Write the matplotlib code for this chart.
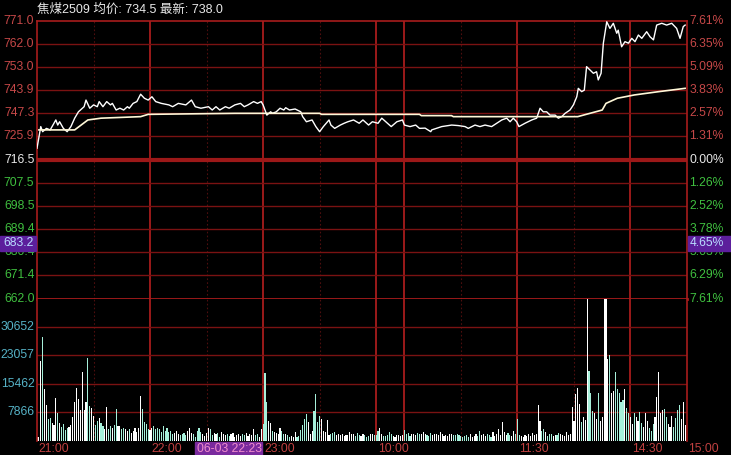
import numpy as np
import matplotlib
matplotlib.use("Agg")
import matplotlib.pyplot as plt
import matplotlib.transforms as mtransforms
from matplotlib.patches import Rectangle

plt.rcParams['font.family'] = ['Liberation Sans', 'Noto Sans CJK SC', 'DejaVu Sans']

TITLE = '焦煤2509 均价: 734.5 最新: 738.0'

# x axis = minutes of trading since 21:00
# night 21:00-23:00 (0-120), 9:00-10:15 (120-195), 10:30-11:30 (195-255), 13:30-15:00 (255-345)
price_t = [0, 2, 3, 5, 7, 10, 11, 12, 14, 16, 18, 20, 22, 25, 26, 28, 30, 32, 33, 35,
           37, 39, 40, 42, 44, 46, 48, 49, 51, 53, 55, 57, 59, 61, 63, 66, 70, 72, 75, 79,
           82, 84, 87, 91, 93, 95, 97, 100, 102, 105, 108, 110, 112, 115, 117, 119,
           120, 121, 122, 124, 125, 127, 129, 131, 132, 134, 137, 140, 141, 143, 146, 148,
           150, 152, 155, 156, 158, 161, 163, 165, 168, 171, 173, 176, 178, 181, 183, 186,
           188, 191, 194, 195, 198, 201, 203, 206, 209, 209.5, 214.8, 220.1, 223.6, 227.2,
           228.9, 232.5, 235.1, 237.8, 241.3, 244, 246.7, 249.3, 251.1, 252.8, 254.6,
           255.8, 259, 262.6, 265.2, 267, 268.7, 270.5, 272.3, 275, 276.7, 278.5, 280.3,
           282.9, 284.7, 286.5, 287.3, 289.1, 290.5, 291.7, 293.5, 295.3, 297, 297.9, 299.4,
           300.6, 302.4, 304.1, 305.9, 307.7, 308.5, 310.3, 312.1, 313.9, 315.7, 317.4,
           319.2, 321, 323.6, 325.4, 327.2, 328.9, 331.6, 334.2, 336.9, 339.5, 341.3, 343, 344]
price_v = [721.1, 729.6, 727.6, 728.9, 728.3, 732.2, 730.2, 731.5, 728.9, 727.6, 729.6, 732.9,
           735.4, 737.4, 740.0, 736.8, 738.1, 737.4, 739.4, 737.4, 739.4, 738.1, 738.7, 736.1,
           736.8, 736.1, 737.4, 736.8, 738.7, 739.4, 742.3, 740.7, 740.0, 741.3, 739.4, 738.7,
           738.1, 737.4, 738.7, 738.1, 740.0, 737.4, 736.8, 737.4, 736.1, 737.4, 736.1, 737.4,
           736.8, 738.1, 738.7, 737.4, 738.1, 739.4, 738.7, 739.4,
           738.1, 736.1, 734.1, 735.4, 734.8, 735.4, 736.8, 736.1, 737.0, 736.1, 736.5, 735.4,
           733.5, 731.5, 732.2, 729.6, 727.6, 729.6, 732.2, 730.2, 728.9, 730.2, 730.9, 731.5,
           732.2, 730.9, 732.2, 730.2, 731.5, 730.9, 732.9, 730.9, 729.6, 731.5, 732.2, 730.2,
           729.6, 730.2, 728.9, 729.0, 727.6, 728.3, 729.6, 730.2, 730.0, 729.6, 728.9, 730.2,
           729.6, 730.2, 729.6, 730.9, 732.2, 732.9, 731.5, 732.9, 731.5,
           729.6, 730.9, 732.2, 732.9, 736.8, 735.4, 735.4, 734.1, 734.1, 732.9, 733.5, 734.8,
           736.1, 738.1, 741.3, 744.6, 743.3, 743.9, 753.1, 751.8, 750.5, 751.1, 747.9, 750.5,
           762.3, 770.7, 768.1, 770.1, 766.2, 767.4, 760.9, 762.9, 762.3, 764.2, 762.9,
           765.5, 764.2, 766.8, 764.8, 763.6, 769.4, 770.1, 769.4, 770.1, 768.1, 764.2, 768.8, 769.4]

avg_t = [1, 20, 27, 34, 55, 59, 105, 150, 151, 203, 204, 220, 221, 287, 300, 302, 308, 317, 330, 344]
avg_v = [728.3, 728.3, 732.2, 732.9, 733.5, 734.4, 734.8, 734.8, 734.4, 734.4, 733.9, 733.9,
         733.5, 733.5, 736.1, 738.7, 740.7, 742.0, 743.3, 744.6]

volume = [
    1000, 1200, 21500, 28000, 14000, 9800, 6000, 6200, 4800, 4300,
    11500, 7500, 4800, 3900, 4500, 2900, 3500, 3800, 4300, 6400,
    10500, 14400, 11300, 8300, 18600, 8300, 10500, 22400, 9400, 9000,
    6800, 4200, 5500, 6100, 4800, 4000, 3300, 9200, 3300, 4000,
    3500, 4400, 8700, 4000, 4100, 3100, 3500, 3100, 2700, 3100,
    2200, 2700, 3500, 2500, 3500, 12000, 8700, 5000, 4700, 3100,
    2900, 3500, 4000, 3100, 3500, 3100, 2500, 4000, 2700, 3500,
    2300, 2700, 1800, 2200, 2700, 1800, 1500, 1800, 2200, 1600,
    2700, 3500, 2200, 1800, 1200, 2700, 3500, 2400, 1800, 1400,
    2200, 3500, 3300, 1600, 2200, 1800, 2200, 1200, 2500, 1800,
    1500, 2000, 1300, 1800, 2200, 1200, 1600, 2000, 1400, 1800,
    1600, 2200, 1300, 1800, 1500, 3200, 1500, 2000, 1200, 3100,
    4500, 18300, 10500, 5400, 4800, 2600, 2400, 2200, 1800, 3500,
    2800, 1800, 2000, 1500, 1200, 1400, 1000, 2400, 1200, 1300,
    2900, 4300, 6000, 7200, 5100, 1800, 2700, 8000, 12600, 5000,
    6800, 6000, 2700, 2300, 5600, 1700, 2000, 2200, 2300, 1500,
    1800, 1600, 2000, 1400, 1700, 1500, 2400, 1800, 2000, 1300,
    2200, 1500, 1300, 1800, 1600, 1200, 1400, 1800, 2000, 1500,
    1600, 2700, 3500, 1800, 1400, 1300, 1500, 2400, 1800, 1400,
    1200, 1500, 1700, 1300, 1600,
    2900, 1800, 2200, 1400, 2000, 1800, 1600, 2200, 1800, 2000,
    2500, 2000, 1700, 1400, 2200, 1600, 2000, 1800, 1500, 2400,
    1900, 1400, 1700, 1300, 2000, 1800, 1500, 1700, 2000, 1600,
    1300, 1100, 1400, 1600, 1000, 2000, 1200, 1300, 1800, 1400,
    2700, 1600, 2000, 1300, 1800, 1500, 1200, 2300, 1400, 2000,
    3200, 1700, 5200, 2500, 1500, 2200, 1700, 1300, 2600, 1800,
    5800, 1700, 1400, 1200, 1500, 1300, 1800, 1400, 2200, 1600,
    1800, 9600, 5400, 2600, 3200, 2400, 1300, 1800, 2000, 1400,
    1700, 1500, 2200, 1800, 1600, 1400, 2500, 1600, 1900, 9200,
    5500, 12600, 14400, 10100, 5000, 6500, 5600, 40000, 18800, 13000,
    8000, 7500, 6000, 13000, 5400, 6500, 40000, 40000, 22200, 23100,
    13000, 13500, 18600, 14000, 13000, 10500, 11000, 14100, 9000, 7500,
    6500, 4500, 7500, 6500, 5500, 7900, 4900, 3700, 7500, 5500,
    3600, 2800, 4500, 6500, 11900, 18600, 7500, 8400, 8600, 6500,
    4500, 3700, 6800, 3700, 6200, 8400, 9800, 6000, 10500, 4300,
]

price_levels = [771.0, 762.0, 753.0, 743.9, 734.9, 725.9, 716.5,
                707.5, 698.5, 689.4, 680.4, 671.4, 662.0]
price_labels = ['771.0', '762.0', '753.0', '743.9', '747.3', '725.9', '716.5',
                '707.5', '698.5', '689.4', '680.4', '671.4', '662.0']
pct_labels = ['7.61%', '6.35%', '5.09%', '3.83%', '2.57%', '1.31%', '0.00%',
              '1.26%', '2.52%', '3.78%', '5.03%', '6.29%', '7.61%']
vol_levels = [7866, 15462, 23057, 30652]
vol_top = 38247

time_ticks = [0, 60, 120, 180, 255, 315, 345]
time_labels = ['21:00', '22:00', '23:00', '10:00', '11:30', '14:30', '15:00']
solid_lines = [60, 120, 180, 195, 255, 315]
dotted_lines = [30, 90, 150, 225, 285]

UP_RED = '#c64848'
DN_GREEN = '#3fbf3f'
GRID = '#7a1212'
VLINE = '#a81c1c'
VOL_TXT = '#56b2c6'
PURPLE = '#5c1f9c'

W, H = 731, 455
fig = plt.figure(figsize=(W / 100, H / 100), dpi=100, facecolor='black')

ax = fig.add_axes([37 / W, (H - 299) / H, 650 / W, 278 / H], facecolor='black')
axv = fig.add_axes([37 / W, (H - 441) / H, 650 / W, 142 / H], facecolor='black')

n = len(volume)
for a in (ax, axv):
    a.set_xlim(0, n)
    a.set_xticks([])
    a.set_yticks([])
    for s in a.spines.values():
        s.set_color(VLINE)
        s.set_linewidth(1.2)
    for m in solid_lines:
        a.axvline(m, color=VLINE, lw=1.3, zorder=1)
    for m in dotted_lines:
        a.axvline(m, color='#4e0e0e', lw=0.8, ls=(0, (1.5, 2)), zorder=1)

ax.set_ylim(662.0, 771.0)
ax.spines['bottom'].set_linewidth(2)
for lv in price_levels[1:-1]:
    if lv == 716.5:
        ax.axhline(lv, color='#9c1818', lw=3, zorder=1)
    else:
        ax.axhline(lv, color=GRID, lw=1, zorder=1)

axv.set_ylim(0, vol_top)
axv.spines['top'].set_visible(False)
axv.spines['bottom'].set_visible(False)
for lv in vol_levels:
    axv.axhline(lv, color=GRID, lw=1, zorder=1)

# price and average lines
ax.plot(price_t, price_v, color='white', lw=1.0, zorder=3)
ax.plot(avg_t, avg_v, color='#fff8d8', lw=1.2, zorder=3)

# volume bars, white on up minutes, pale cyan on down minutes
mins = np.arange(n)
p_min = np.interp(mins, price_t, price_v)
up = np.diff(p_min, prepend=p_min[0]) >= 0
colors = np.where(up, '#ffffff', '#a6f0da')
axv.bar(mins, volume, width=0.6, color=colors, zorder=2)

# axis labels
tl = mtransforms.blended_transform_factory(ax.transAxes, ax.transData)
for i, (lv, lab, pct) in enumerate(zip(price_levels, price_labels, pct_labels)):
    c = UP_RED if i < 6 else ('#e8e8e8' if i == 6 else DN_GREEN)
    ax.text(-0.004, lv, lab, transform=tl, ha='right', va='center', color=c,
            fontsize=8.7, clip_on=False)
    ax.text(1.004, lv, pct, transform=tl, ha='left', va='center', color=c,
            fontsize=8.7, clip_on=False)

tv = mtransforms.blended_transform_factory(axv.transAxes, axv.transData)
for lv in vol_levels:
    axv.text(-0.004, lv, str(lv), transform=tv, ha='right', va='center',
             color=VOL_TXT, fontsize=8.7, clip_on=False)

tx = mtransforms.blended_transform_factory(axv.transData, axv.transAxes)
for m, lab in zip(time_ticks, time_labels):
    axv.text(m + 0.8, -0.058, lab, transform=tx, ha='left', va='center',
             color='#c04040', fontsize=8.7, clip_on=False)

# title
fig.text(37 / W, 1 - 10 / H, TITLE, ha='left', va='center', color='#e8e8e8', fontsize=9)

# cursor boxes
def box(x0, y0, x1, y1, color):
    fig.add_artist(Rectangle((x0 / W, 1 - y1 / H), (x1 - x0) / W, (y1 - y0) / H,
                             transform=fig.transFigure, color=color, zorder=5))

box(0, 236, 36, 251, PURPLE)
fig.text(34 / W, 1 - 243.5 / H, '683.2', ha='right', va='center', color='#b8dcff',
         fontsize=8.7, zorder=6)
box(688, 236, 731, 251, PURPLE)
fig.text(690 / W, 1 - 243.5 / H, '4.65%', ha='left', va='center', color='#b8dcff',
         fontsize=8.7, zorder=6)
box(195, 442, 262, 455, '#7a2a9e')
fig.text(197 / W, 1 - 449 / H, '06-03 22:23', ha='left', va='center', color='#f08ccc',
         fontsize=8.7, zorder=6)

fig.savefig('out.png', dpi=100, facecolor='black')
